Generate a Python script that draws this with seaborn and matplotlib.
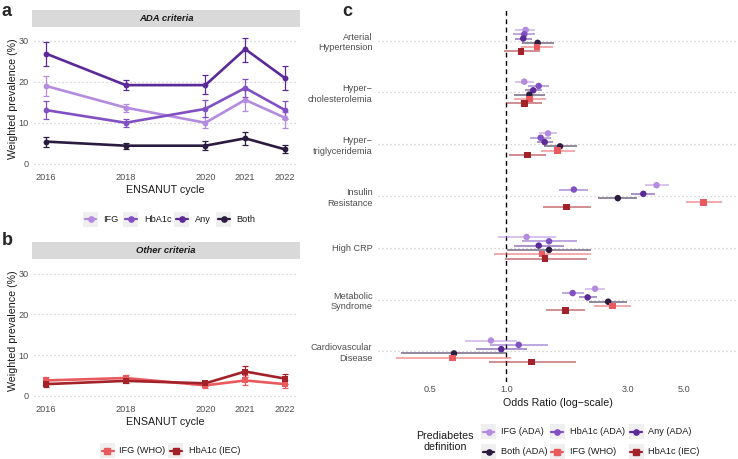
import numpy as np
import pandas as pd
import matplotlib
matplotlib.use("Agg")
import matplotlib.pyplot as plt
import seaborn as sns
from matplotlib.lines import Line2D
from matplotlib.patches import Rectangle

sns.set_theme(style="white")
plt.rcParams["font.family"] = ["Liberation Sans", "DejaVu Sans"]

# ---------------- data ----------------
years = [2016, 2018, 2020, 2021, 2022]

ada_groups = ["IFG", "HbA1c", "Any", "Both"]
ifg_ada = [19.0, 13.7, 10.0, 15.6, 11.2]
ifg_ada_lo = [16.6, 12.6, 8.6, 12.9, 8.8]
ifg_ada_hi = [21.5, 14.7, 11.3, 18.1, 12.6]
hba1c_ada = [13.1, 10.0, 13.4, 18.5, 13.1]
hba1c_ada_lo = [11.0, 9.0, 11.3, 16.2, 11.0]
hba1c_ada_hi = [15.2, 11.0, 15.5, 20.8, 15.2]
any_ada = [26.9, 19.2, 19.2, 28.0, 20.9]
any_ada_lo = [23.9, 18.0, 17.1, 24.9, 18.1]
any_ada_hi = [29.7, 20.4, 21.6, 30.8, 23.8]
both_ada = [5.4, 4.4, 4.4, 6.2, 3.5]
both_ada_lo = [4.2, 3.6, 3.3, 4.6, 2.5]
both_ada_hi = [6.5, 5.1, 5.5, 7.7, 4.5]

other_groups = ["IFG (WHO)", "HbA1c (IEC)"]
ifg_who = [3.8, 4.4, 2.6, 3.8, 2.9]
ifg_who_lo = [2.9, 3.7, 2.0, 2.6, 2.0]
ifg_who_hi = [4.7, 5.1, 3.4, 5.2, 3.8]
hba1c_iec = [2.9, 3.7, 3.1, 6.0, 4.25]
hba1c_iec_lo = [2.3, 3.1, 2.5, 4.7, 3.0]
hba1c_iec_hi = [3.5, 4.2, 3.7, 7.4, 5.4]

outcomes = ["Arterial\nHypertension", "Hyper\u2212\ncholesterolemia", "Hyper\u2212\ntriglyceridemia",
            "Insulin\nResistance", "High CRP", "Metabolic\nSyndrome", "Cardiovascular\nDisease"]
definitions = ["IFG (ADA)", "HbA1c (ADA)", "Any (ADA)", "Both (ADA)", "IFG (WHO)", "HbA1c (IEC)"]

or_ifg_ada = [1.19, 1.175, 1.456, 3.89, 1.20, 2.23, 0.869]
lo_ifg_ada = [1.083, 1.083, 1.339, 3.49, 0.928, 2.04, 0.687]
hi_ifg_ada = [1.298, 1.279, 1.584, 4.37, 1.57, 2.45, 1.10]
or_hba1c_ada = [1.175, 1.339, 1.363, 1.84, 1.47, 1.82, 1.117]
lo_hba1c_ada = [1.064, 1.218, 1.237, 1.61, 1.15, 1.65, 0.86]
hi_hba1c_ada = [1.298, 1.47, 1.50, 2.10, 1.887, 2.01, 1.45]
or_any_ada = [1.164, 1.274, 1.413, 3.45, 1.339, 2.085, 0.954]
lo_any_ada = [1.08, 1.18, 1.314, 3.09, 1.07, 1.93, 0.757]
hi_any_ada = [1.263, 1.38, 1.52, 3.84, 1.68, 2.26, 1.204]
or_both_ada = [1.326, 1.23, 1.623, 2.74, 1.47, 2.51, 0.622]
lo_both_ada = [1.15, 1.067, 1.404, 2.30, 1.005, 2.12, 0.385]
hi_both_ada = [1.54, 1.42, 1.90, 3.27, 2.14, 2.97, 0.995]
or_ifg_who = [1.318, 1.23, 1.589, 5.96, 1.38, 2.61, 0.614]
lo_ifg_who = [1.14, 1.067, 1.37, 5.09, 0.895, 2.20, 0.367]
hi_ifg_who = [1.53, 1.43, 1.86, 7.01, 2.14, 3.09, 1.04]
or_hba1c_iec = [1.143, 1.175, 1.207, 1.72, 1.42, 1.71, 1.256]
lo_hba1c_iec = [0.975, 1.0, 1.026, 1.39, 0.99, 1.43, 0.851]
hi_hba1c_iec = [1.35, 1.38, 1.43, 2.14, 2.07, 2.04, 1.87]

xticks_c = [0.5, 1.0, 3.0, 5.0]
yticks_ab = [0, 10, 20, 30]

# ---------------- styles ----------------
ada_colors = {"IFG": "#B48BDE", "HbA1c": "#8150C2", "Any": "#5C2A98", "Both": "#2B1B3F"}
other_colors = {"IFG (WHO)": "#E85A5E", "HbA1c (IEC)": "#A3222A"}
def_colors = {"IFG (ADA)": "#B48BDE", "HbA1c (ADA)": "#8150C2", "Any (ADA)": "#5C2A98",
              "Both (ADA)": "#2B1B3F", "IFG (WHO)": "#E85A5E", "HbA1c (IEC)": "#A3222A"}
def_markers = {"IFG (ADA)": "o", "HbA1c (ADA)": "o", "Any (ADA)": "o",
               "Both (ADA)": "o", "IFG (WHO)": "s", "HbA1c (IEC)": "s"}

TICK_FS = 6.6
TITLE_FS = 7.7

W, H = 738, 459
fig = plt.figure(figsize=(W / 100, H / 100), dpi=100)
fig.patch.set_facecolor("white")

def px_axes(x0, y0, x1, y1):
    return fig.add_axes([x0 / W, 1 - y1 / H, (x1 - x0) / W, (y1 - y0) / H])

def fx(x):
    return x / W

def fy(y):
    return 1 - y / H

TICK_C = "#4D4D4D"
GRID_C = "#C9C9C9"

def style_axes(ax):
    for s in ax.spines.values():
        s.set_visible(False)
    ax.set_facecolor("white")
    ax.tick_params(axis="both", labelsize=TICK_FS, labelcolor=TICK_C, length=2, width=0.6,
                   color=TICK_C, pad=2)
    ax.grid(False)

def strip(x0, y0, x1, y1, text):
    fig.patches.append(Rectangle((fx(x0), fy(y1)), fx(x1) - fx(x0), fy(y0) - fy(y1),
                                 transform=fig.transFigure, facecolor="#D9D9D9",
                                 edgecolor="none", zorder=0))
    fig.text(fx((x0 + x1) / 2), fy((y0 + y1) / 2), text, ha="center", va="center",
             fontsize=6.8, fontstyle="italic", fontweight="bold", color="#1A1A1A")

def manual_legend(items, y_c, key_w=15, key_h=15):
    for (label, color, kx, tx, marker) in items:
        fig.patches.append(Rectangle((fx(kx), fy(y_c + key_h / 2)), fx(key_w), key_h / H,
                                     transform=fig.transFigure, facecolor="#EFEFEF",
                                     edgecolor="none"))
        fig.lines.append(Line2D([fx(kx + 1.5), fx(kx + key_w - 1.5)], [fy(y_c), fy(y_c)],
                                transform=fig.transFigure, color=color, lw=1.6))
        fig.lines.append(Line2D([fx(kx + key_w / 2)], [fy(y_c)], transform=fig.transFigure,
                                color=color, marker=marker, markersize=3.8, lw=0))
        fig.text(fx(tx), fy(y_c), label, ha="left", va="center", fontsize=TICK_FS,
                 color="#1A1A1A")

# ---------------- panel a ----------------
df_a = pd.DataFrame({
    "year": years * 4,
    "prev": ifg_ada + hba1c_ada + any_ada + both_ada,
    "lo": ifg_ada_lo + hba1c_ada_lo + any_ada_lo + both_ada_lo,
    "hi": ifg_ada_hi + hba1c_ada_hi + any_ada_hi + both_ada_hi,
    "group": sum([[g] * len(years) for g in ada_groups], []),
})

axa = px_axes(34, 27, 297, 170)
style_axes(axa)
axa.tick_params(axis="x", length=0)
axa.set_yticks(yticks_ab)
for v in yticks_ab:
    axa.axhline(v, color=GRID_C, lw=0.9, ls=(0, (1, 2.2)), zorder=0)
for g in ada_groups:
    d = df_a[df_a.group == g]
    axa.errorbar(d["year"], d["prev"], yerr=[d["prev"] - d["lo"], d["hi"] - d["prev"]],
                 fmt="none", ecolor=ada_colors[g], elinewidth=0.9, capsize=2, capthick=0.9,
                 zorder=2)
sns.lineplot(data=df_a, x="year", y="prev", hue="group", hue_order=ada_groups,
             palette=ada_colors, lw=1.9, marker="o", markersize=4.2, markeredgewidth=0,
             legend=False, ax=axa, zorder=3, errorbar=None)
axa.set_xticks(years)
axa.set_xlim(2015.7, 2022.3)
axa.set_ylim(-1.54, 33.4)
axa.set_xlabel("ENSANUT cycle", fontsize=TITLE_FS, color="#1A1A1A", labelpad=2)
axa.set_ylabel("Weighted prevalence (%)", fontsize=TITLE_FS, color="#1A1A1A", labelpad=0)
strip(32, 10, 300, 26.5, "ADA criteria")
fig.text(fx(2), fy(11), "a", fontsize=13, fontweight="bold", va="center", ha="left")
manual_legend([("IFG", ada_colors["IFG"], 83, 103, "o"),
               ("HbA1c", ada_colors["HbA1c"], 123, 144, "o"),
               ("Any", ada_colors["Any"], 174, 195, "o"),
               ("Both", ada_colors["Both"], 216, 236, "o")], 219.5)

# ---------------- panel b ----------------
df_b = pd.DataFrame({
    "year": years * 2,
    "prev": ifg_who + hba1c_iec,
    "lo": ifg_who_lo + hba1c_iec_lo,
    "hi": ifg_who_hi + hba1c_iec_hi,
    "group": sum([[g] * len(years) for g in other_groups], []),
})
axb = px_axes(34, 258.5, 297, 402.3)
style_axes(axb)
axb.tick_params(axis="x", length=0)
axb.set_yticks(yticks_ab)
for v in yticks_ab:
    axb.axhline(v, color=GRID_C, lw=0.9, ls=(0, (1, 2.2)), zorder=0)
for g in other_groups:
    d = df_b[df_b.group == g]
    axb.errorbar(d["year"], d["prev"], yerr=[d["prev"] - d["lo"], d["hi"] - d["prev"]],
                 fmt="none", ecolor=other_colors[g], elinewidth=0.9, capsize=2, capthick=0.9,
                 zorder=2)
sns.lineplot(data=df_b, x="year", y="prev", hue="group", hue_order=other_groups,
             palette=other_colors, lw=1.9, marker="s", markersize=4.2, markeredgewidth=0,
             legend=False, ax=axb, zorder=3, errorbar=None)
axb.set_xticks(years)
axb.set_xlim(2015.7, 2022.3)
axb.set_ylim(-1.55, 33.7)
axb.set_xlabel("ENSANUT cycle", fontsize=TITLE_FS, color="#1A1A1A", labelpad=2)
axb.set_ylabel("Weighted prevalence (%)", fontsize=TITLE_FS, color="#1A1A1A", labelpad=0)
strip(32, 242, 300, 258.5, "Other criteria")
fig.text(fx(2), fy(241), "b", fontsize=13, fontweight="bold", va="center", ha="left")
manual_legend([("IFG (WHO)", other_colors["IFG (WHO)"], 100, 119, "s"),
               ("HbA1c (IEC)", other_colors["HbA1c (IEC)"], 168, 189, "s")], 450.5)

# ---------------- panel c ----------------
or_vals = [or_ifg_ada, or_hba1c_ada, or_any_ada, or_both_ada, or_ifg_who, or_hba1c_iec]
lo_vals = [lo_ifg_ada, lo_hba1c_ada, lo_any_ada, lo_both_ada, lo_ifg_who, lo_hba1c_iec]
hi_vals = [hi_ifg_ada, hi_hba1c_ada, hi_any_ada, hi_both_ada, hi_ifg_who, hi_hba1c_iec]
rows = []
for i, dname in enumerate(definitions):
    for k, oc in enumerate(outcomes):
        rows.append({"outcome": oc, "definition": dname, "OR": or_vals[i][k],
                     "lo": lo_vals[i][k], "hi": hi_vals[i][k],
                     "pos": k + (i - 2.5) * 0.5 / 6})
df_c = pd.DataFrame(rows)

axc = px_axes(378, 10, 738, 382)
style_axes(axc)
axc.set_xscale("log")
for k in range(len(outcomes)):
    axc.axhline(k, color=GRID_C, lw=0.9, ls=(0, (1, 2.2)), zorder=0)
axc.axvline(1.0, color="black", lw=1.0, ls=(0, (3.5, 2.5)), zorder=1)
for dname in definitions:
    d = df_c[df_c.definition == dname]
    axc.hlines(d["pos"], d["lo"], d["hi"], color=def_colors[dname], lw=1.2, alpha=0.6,
               zorder=2)
sns.scatterplot(data=df_c, x="OR", y="pos", hue="definition", hue_order=definitions,
                palette=def_colors, style="definition", markers=def_markers, s=22,
                linewidth=0, legend=False, ax=axc, zorder=3)
axc.set_xlim(0.3126, 8.13)
axc.set_ylim(6.593, -0.593)
axc.set_yticks(range(len(outcomes)))
axc.set_yticklabels(outcomes, fontsize=TICK_FS, color=TICK_C, linespacing=1.25)
axc.set_xticks(xticks_c)
axc.set_xticklabels([f"{v:.1f}" for v in xticks_c])
axc.xaxis.set_minor_locator(matplotlib.ticker.NullLocator())
axc.tick_params(axis="x", length=0)
axc.set_xlabel("Odds Ratio (log\u2212scale)", fontsize=TITLE_FS, color="#1A1A1A", labelpad=3)
axc.set_ylabel("")
fig.text(fx(342), fy(11), "c", fontsize=13, fontweight="bold", va="center", ha="left")

fig.text(fx(445), fy(441.5), "Prediabetes\ndefinition", fontsize=TITLE_FS, color="#1A1A1A",
         ha="center", va="center", linespacing=1.15)
manual_legend([("IFG (ADA)", def_colors["IFG (ADA)"], 481, 501.5, "o"),
               ("HbA1c (ADA)", def_colors["HbA1c (ADA)"], 549.5, 570.5, "o"),
               ("Any (ADA)", def_colors["Any (ADA)"], 628.5, 648.5, "o")], 431.5)
manual_legend([("Both (ADA)", def_colors["Both (ADA)"], 481, 501.5, "o"),
               ("IFG (WHO)", def_colors["IFG (WHO)"], 549.5, 570.5, "s"),
               ("HbA1c (IEC)", def_colors["HbA1c (IEC)"], 628.5, 648.5, "s")], 451.5)

fig.savefig("out.png", dpi=100, facecolor="white")
